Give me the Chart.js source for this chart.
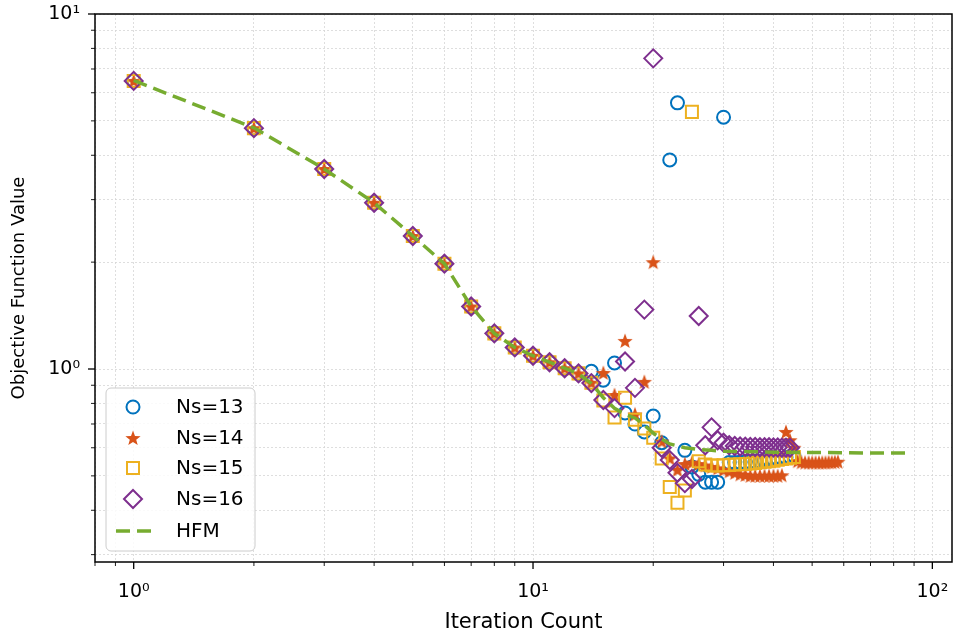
<!DOCTYPE html>
<html>
<head>
<meta charset="utf-8">
<script src="https://cdn.jsdelivr.net/npm/chart.js@4.4.0/dist/chart.umd.min.js"></script>
<style>
  html, body { margin: 0; padding: 0; background: #fff; }
</style>
</head>
<body>
<canvas id="chart" width="955" height="635"></canvas>
<script>
// iterations 1..13, where all four runs sit on top of each other
var sharedIter = [1, 2, 3, 4, 5, 6, 7, 8, 9, 10, 11, 12, 13];
var sharedVal  = [6.48, 4.77, 3.66, 2.94, 2.37, 1.98, 1.50, 1.26, 1.15, 1.09, 1.045, 1.005, 0.972];

var ns13Iter = [14, 15, 16, 17, 18, 19, 20, 21, 22, 23, 24, 25, 26, 27, 28, 29, 30,
                31, 32, 33, 34, 35, 36, 37, 38, 39, 40, 41, 42, 43, 44, 45];
var ns13Val  = [0.985, 0.93, 1.04, 0.752, 0.70, 0.665, 0.737, 0.62, 3.88, 5.62, 0.59, 0.53, 0.505, 0.48, 0.48, 0.48, 5.12,
                0.545, 0.545, 0.546, 0.547, 0.548, 0.549, 0.55, 0.552, 0.554, 0.556, 0.558, 0.56, 0.563, 0.566, 0.57];

var ns14Iter = [14, 15, 16, 17, 18, 19, 20, 21, 22, 23, 24, 25, 26, 27, 28, 29, 30,
                31, 32, 33, 34, 35, 36, 37, 38, 39, 40, 41, 42, 43, 44, 45,
                46, 47, 48, 49, 50, 51, 52, 53, 54, 55, 56, 57, 58];
var ns14Val  = [0.915, 0.975, 0.845, 1.20, 0.745, 0.92, 2.0, 0.625, 0.56, 0.52, 0.54, 0.545, 0.54, 0.535, 0.53, 0.525, 0.52,
                0.515, 0.51, 0.505, 0.503, 0.50, 0.50, 0.50, 0.50, 0.50, 0.50, 0.50, 0.502, 0.665, 0.63, 0.60,
                0.55, 0.546, 0.545, 0.545, 0.545, 0.545, 0.545, 0.545, 0.545, 0.546, 0.546, 0.547, 0.548];

var ns15Iter = [14, 15, 16, 17, 18, 19, 20, 21, 22, 23, 24, 25, 26, 27, 28, 29, 30,
                31, 32, 33, 34, 35, 36, 37, 38, 39, 40, 41, 42, 43, 44, 45];
var ns15Val  = [0.915, 0.815, 0.73, 0.83, 0.72, 0.68, 0.64, 0.56, 0.465, 0.42, 0.455, 5.3, 0.55, 0.538, 0.535, 0.535, 0.536,
                0.537, 0.538, 0.539, 0.54, 0.542, 0.544, 0.546, 0.548, 0.55, 0.552, 0.555, 0.558, 0.56, 0.562, 0.565];

var ns16Iter = [14, 15, 16, 17, 18, 19, 20, 21, 22, 23, 24, 25, 26, 27, 28, 29, 30,
                31, 32, 33, 34, 35, 36, 37, 38, 39, 40, 41, 42, 43, 44];
var ns16Val  = [0.913, 0.818, 0.776, 1.05, 0.885, 1.47, 7.5, 0.60, 0.554, 0.51, 0.477, 0.49, 1.41, 0.61, 0.685, 0.63, 0.62,
                0.61, 0.607, 0.605, 0.604, 0.603, 0.603, 0.602, 0.602, 0.602, 0.601, 0.601, 0.60, 0.60, 0.60];

// high fidelity model reference curve
var hfmIter = [1, 2, 3, 4, 5, 6, 7, 8, 9, 10, 11, 12, 13, 14, 15, 16, 17, 18, 19, 20, 21, 22, 24, 26, 28, 30, 35, 40, 50, 60, 70, 88];
var hfmVal  = [6.5, 4.78, 3.66, 2.94, 2.37, 1.98, 1.50, 1.26, 1.15, 1.09, 1.045, 1.005, 0.97, 0.91, 0.83, 0.775, 0.745, 0.728,
               0.695, 0.66, 0.635, 0.615, 0.60, 0.593, 0.59, 0.587, 0.585, 0.583, 0.582, 0.581, 0.58, 0.58];

var seriesNames = ['Ns=13', 'Ns=14', 'Ns=15', 'Ns=16', 'HFM'];
var decadeTicks = [1, 10, 100];
var decadeLabelsX = ['10\u2070', '10\u00b9', '10\u00b2'];
var yDecadeTicks = [1, 10];
var yDecadeLabels = ['10\u2070', '10\u00b9'];

var colBlue = '#0072BD', colOrange = '#D95319', colYellow = '#EDB120', colPurple = '#7E2F8E', colGreen = '#77AC30';

function pts(xs, ys) {
  return xs.map(function (x, i) { return { x: x, y: ys[i] }; });
}

// filled five point star used as marker
function makeStar(color, outer) {
  var c = document.createElement('canvas');
  var s = Math.ceil(outer * 2 + 2);
  c.width = s; c.height = s;
  var g = c.getContext('2d');
  var inner = outer * 0.42;
  g.beginPath();
  for (var i = 0; i < 10; i++) {
    var r = i % 2 === 0 ? outer : inner;
    var a = -Math.PI / 2 + i * Math.PI / 5;
    var px = s / 2 + r * Math.cos(a), py = s / 2 + 0.6 + r * Math.sin(a);
    if (i === 0) g.moveTo(px, py); else g.lineTo(px, py);
  }
  g.closePath();
  g.fillStyle = color;
  g.fill();
  return c;
}
var starImg = makeStar(colOrange, 8);

function allTicks(min, max) {
  var out = [];
  for (var d = -1; d <= 2; d++) {
    for (var m = 1; m < 10; m++) {
      var v = parseFloat((m * Math.pow(10, d)).toPrecision(3));
      if (v >= min && v <= max) out.push(v);
    }
  }
  return out;
}

function noPad(s) {
  s.paddingTop = 0; s.paddingBottom = 0; s.paddingLeft = 0; s.paddingRight = 0;
}

var frameAndTicks = {
  id: 'frameAndTicks',
  afterDatasetsDraw: function (chart) {
    var ctx = chart.ctx, a = chart.chartArea;
    var xs = chart.scales.x, ys = chart.scales.y;
    ctx.save();
    ctx.setLineDash([]);
    ctx.strokeStyle = '#000';
    xs.ticks.forEach(function (t) {
      var px = xs.getPixelForValue(t.value);
      var major = decadeTicks.indexOf(t.value) >= 0;
      ctx.lineWidth = major ? 1.3 : 0.9;
      ctx.beginPath();
      ctx.moveTo(px, a.bottom);
      ctx.lineTo(px, a.bottom + (major ? 7 : 4));
      ctx.stroke();
    });
    ys.ticks.forEach(function (t) {
      var py = ys.getPixelForValue(t.value);
      var major = yDecadeTicks.indexOf(t.value) >= 0;
      ctx.lineWidth = major ? 1.3 : 0.9;
      ctx.beginPath();
      ctx.moveTo(a.left, py);
      ctx.lineTo(a.left - (major ? 7 : 4), py);
      ctx.stroke();
    });
    ctx.lineWidth = 1.5;
    ctx.strokeRect(a.left, a.top, a.right - a.left, a.bottom - a.top);
    ctx.restore();
  },
  afterDraw: function (chart) {
    var ctx = chart.ctx;
    var bx = 106, by = 388, bw = 149, bh = 163, r = 5;
    ctx.save();
    ctx.beginPath();
    ctx.moveTo(bx + r, by);
    ctx.arcTo(bx + bw, by, bx + bw, by + bh, r);
    ctx.arcTo(bx + bw, by + bh, bx, by + bh, r);
    ctx.arcTo(bx, by + bh, bx, by, r);
    ctx.arcTo(bx, by, bx + bw, by, r);
    ctx.closePath();
    ctx.fillStyle = 'rgba(255,255,255,0.85)';
    ctx.fill();
    ctx.strokeStyle = '#cccccc';
    ctx.lineWidth = 1;
    ctx.stroke();

    var mx = 133, tx = 176, rows = [407, 438, 468, 499, 531];
    ctx.lineWidth = 2;
    // circle
    ctx.strokeStyle = colBlue;
    ctx.beginPath(); ctx.arc(mx, rows[0], 6.5, 0, Math.PI * 2); ctx.stroke();
    // star
    ctx.drawImage(starImg, mx - starImg.width / 2, rows[1] - starImg.height / 2);
    // square
    ctx.strokeStyle = colYellow;
    ctx.strokeRect(mx - 6, rows[2] - 6, 12, 12);
    // diamond
    ctx.strokeStyle = colPurple;
    ctx.beginPath();
    ctx.moveTo(mx - 9, rows[3]); ctx.lineTo(mx, rows[3] - 9);
    ctx.lineTo(mx + 9, rows[3]); ctx.lineTo(mx, rows[3] + 9);
    ctx.closePath(); ctx.stroke();
    // dashed line
    ctx.strokeStyle = colGreen;
    ctx.lineWidth = 3.5;
    ctx.setLineDash([14, 7]);
    ctx.beginPath(); ctx.moveTo(116, rows[4]); ctx.lineTo(153, rows[4]); ctx.stroke();
    ctx.setLineDash([]);

    ctx.fillStyle = '#000';
    ctx.font = '20px "DejaVu Sans"';
    ctx.textBaseline = 'middle';
    ctx.textAlign = 'left';
    seriesNames.forEach(function (n, i) { ctx.fillText(n, tx, rows[i] + 1); });
    ctx.restore();
  }
};

Chart.defaults.font.family = '"DejaVu Sans", sans-serif';
Chart.defaults.color = '#000';

var scatterBase = { showLine: false, pointBorderWidth: 2, pointBackgroundColor: 'rgba(0,0,0,0)', pointHoverRadius: 0 };

new Chart(document.getElementById('chart').getContext('2d'), {
  type: 'scatter',
  data: {
    datasets: [
      Object.assign({}, scatterBase, {
        label: seriesNames[0], order: 5,
        data: pts(sharedIter.concat(ns13Iter), sharedVal.concat(ns13Val)),
        pointStyle: 'circle', pointRadius: 6.5, pointBorderColor: colBlue
      }),
      Object.assign({}, scatterBase, {
        label: seriesNames[1], order: 4,
        data: pts(sharedIter.concat(ns14Iter), sharedVal.concat(ns14Val)),
        pointStyle: starImg, pointRadius: 8, pointBorderColor: colOrange
      }),
      Object.assign({}, scatterBase, {
        label: seriesNames[2], order: 3,
        data: pts(sharedIter.concat(ns15Iter), sharedVal.concat(ns15Val)),
        pointStyle: 'rect', pointRadius: 8.5, pointBorderColor: colYellow
      }),
      Object.assign({}, scatterBase, {
        label: seriesNames[3], order: 2,
        data: pts(sharedIter.concat(ns16Iter), sharedVal.concat(ns16Val)),
        pointStyle: 'rectRot', pointRadius: 9, pointBorderColor: colPurple
      }),
      {
        label: seriesNames[4], order: 1,
        data: pts(hfmIter, hfmVal),
        showLine: true, pointRadius: 0, pointHoverRadius: 0,
        borderColor: colGreen, borderWidth: 3.5, borderDash: [14, 7], tension: 0, fill: false
      }
    ]
  },
  options: {
    responsive: false,
    devicePixelRatio: 1,
    animation: false,
    layout: { autoPadding: false, padding: { left: 0, top: 14, right: 3, bottom: 0 } },
    plugins: { legend: { display: false }, tooltip: { enabled: false } },
    scales: {
      x: {
        type: 'logarithmic', min: 0.8, max: 112,
        afterBuildTicks: function (s) {
          s.ticks = allTicks(0.8, 112).map(function (v) { return { value: v }; });
        },
        afterFit: function (s) { s.height = 73; noPad(s); },
        ticks: {
          autoSkip: false, maxRotation: 0, padding: 19,
          font: { size: 19 },
          callback: function (v) {
            var i = decadeTicks.indexOf(v);
            return i >= 0 ? decadeLabelsX[i] : '';
          }
        },
        grid: { color: '#d6d6d6', lineWidth: 0.8, drawTicks: false },
        border: { display: false, dash: [2, 2] },
        title: { display: true, text: 'Iteration Count', font: { size: 21 }, padding: { top: 0, bottom: 0 } }
      },
      y: {
        type: 'logarithmic', min: 0.286, max: 10,
        afterBuildTicks: function (s) {
          s.ticks = allTicks(0.286, 10).map(function (v) { return { value: v }; });
        },
        afterFit: function (s) { s.width = 95; noPad(s); },
        ticks: {
          autoSkip: false, padding: 15,
          font: { size: 19 },
          callback: function (v) {
            var i = yDecadeTicks.indexOf(v);
            return i >= 0 ? yDecadeLabels[i] : '';
          }
        },
        grid: { color: '#d6d6d6', lineWidth: 0.8, drawTicks: false },
        border: { display: false, dash: [2, 2] },
        title: { display: true, text: 'Objective Function Value', font: { size: 18 }, padding: { top: 9, bottom: 0 } }
      }
    }
  },
  plugins: [frameAndTicks]
});
</script>
</body>
</html>
